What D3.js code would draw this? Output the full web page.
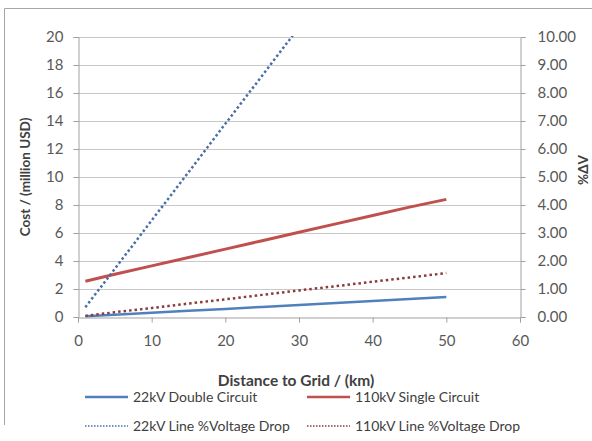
<!DOCTYPE html>
<html>
<head>
<meta charset="utf-8">
<script src="https://cdn.jsdelivr.net/npm/d3@7"></script>
<style>
  body { margin: 0; background: #fff; }
  text { font-family: Lato, "Open Sans", sans-serif; }
</style>
</head>
<body>
<script>
// chart data
const distances = [1, 5, 10, 15, 20, 25, 30, 35, 40, 45, 50];
const cost22kV = [0.05, 0.16, 0.3, 0.44, 0.58, 0.72, 0.86, 1.0, 1.14, 1.28, 1.42];
const cost110kV = [2.55, 3.05, 3.65, 4.25, 4.85, 5.45, 6.05, 6.65, 7.25, 7.85, 8.4];
const drop22kV = [0.35, 1.72, 3.45, 5.17, 6.9, 8.62, 10.35, 12.07, 13.8, 15.52, 17.25];
const drop110kV = [0.04, 0.17, 0.32, 0.48, 0.63, 0.79, 0.95, 1.1, 1.26, 1.41, 1.57];
const xTicks = [0, 10, 20, 30, 40, 50, 60];
const yTicks = [0, 2, 4, 6, 8, 10, 12, 14, 16, 18, 20];
const y2Ticks = [0, 1, 2, 3, 4, 5, 6, 7, 8, 9, 10];

const width = 592, height = 441;
const mLeft = 78, mRight = 520, mTop = 37, mBottom = 317;

const svg = d3.select("body").append("svg")
  .attr("width", width)
  .attr("height", height);

// outer chart border (only top and left edges are inside the picture)
svg.append("path")
  .attr("d", "M4.5,425V8.5H592")
  .attr("fill", "none").attr("stroke", "#a6a6a6");

const x = d3.scaleLinear().domain([0, 60]).range([mLeft, mRight]);
const y = d3.scaleLinear().domain([0, 20]).range([mBottom, mTop]);
const y2 = d3.scaleLinear().domain([0, 10]).range([mBottom, mTop]);

// gridlines
svg.append("g")
  .selectAll("line")
  .data(yTicks.slice(1))
  .enter().append("line")
  .attr("x1", mLeft).attr("x2", mRight)
  .attr("y1", d => y(d) + 0.5).attr("y2", d => y(d) + 0.5)
  .attr("stroke", "#c8c8c8").attr("stroke-width", 1.2);

// axes
const xAxis = svg.append("g")
  .attr("transform", `translate(0,${mBottom + 0.5})`)
  .call(d3.axisBottom(x).tickValues(xTicks).tickSize(5).tickPadding(13));

const yAxis = svg.append("g")
  .attr("transform", `translate(${mLeft + 0.5},0)`)
  .call(d3.axisLeft(y).tickValues(yTicks).tickSize(5).tickPadding(10));

const y2Axis = svg.append("g")
  .attr("transform", `translate(${mRight + 0.5},0)`)
  .call(d3.axisRight(y2).tickValues(y2Ticks).tickFormat(d3.format(".2f")).tickSize(5).tickPadding(12));

[xAxis, yAxis, y2Axis].forEach(g => {
  g.select(".domain").attr("stroke", "#a0a0a0");
  g.selectAll(".tick line").attr("stroke", "#a0a0a0");
  g.selectAll(".tick text")
    .attr("fill", "#595959")
    .style("font-size", "15px")
    .style("font-family", "Lato, sans-serif");
});

// clip to plot area
svg.append("clipPath").attr("id", "plot")
  .append("rect")
  .attr("x", mLeft).attr("y", mTop - 1)
  .attr("width", mRight - mLeft).attr("height", mBottom - mTop + 2);

const lineCost = d3.line().x((d, i) => x(distances[i])).y(d => y(d));
const lineDrop = d3.line().x((d, i) => x(distances[i])).y(d => y2(d));

const series = [
  { name: "22kV Double Circuit", values: cost22kV, gen: lineCost, color: "#4f81bd", dash: null, w: 2.5 },
  { name: "110kV Single Circuit", values: cost110kV, gen: lineCost, color: "#c0504d", dash: null, w: 3 },
  { name: "22kV Line %Voltage Drop", values: drop22kV, gen: lineDrop, color: "#4a6fa5", dash: "2.5,2.5", w: 2.5 },
  { name: "110kV Line %Voltage Drop", values: drop110kV, gen: lineDrop, color: "#8e3a3a", dash: "2.5,3", w: 2.5 }
];

const plot = svg.append("g").attr("clip-path", "url(#plot)");
series.forEach(s => {
  plot.append("path")
    .datum(s.values)
    .attr("d", s.gen)
    .attr("fill", "none")
    .attr("stroke", s.color)
    .attr("stroke-width", s.w)
    .attr("stroke-dasharray", s.dash);
});

// axis titles
svg.append("text")
  .attr("transform", `translate(30,${(mTop + mBottom) / 2}) rotate(-90)`)
  .attr("text-anchor", "middle")
  .attr("fill", "#404040")
  .style("font-size", "13.5px").style("font-weight", "bold")
  .text("Cost / (million USD)");

svg.append("text")
  .attr("transform", `translate(588,170) rotate(-90)`)
  .attr("text-anchor", "middle")
  .attr("fill", "#404040")
  .style("font-size", "13.5px").style("font-weight", "bold")
  .text("%ΔV");

svg.append("text")
  .attr("x", (mLeft + mRight) / 2 - 3).attr("y", 386)
  .attr("text-anchor", "middle")
  .attr("fill", "#404040")
  .style("font-size", "15.5px").style("font-weight", "bold")
  .text("Distance to Grid / (km)");

// legend
const legendPos = [[85, 397], [307, 397], [85, 426], [307, 426]];
series.forEach((s, i) => {
  const [lx, ly] = legendPos[i];
  svg.append("line")
    .attr("x1", lx).attr("x2", lx + 43)
    .attr("y1", ly).attr("y2", ly)
    .attr("stroke", s.color)
    .attr("stroke-width", s.dash ? 1.5 : 2.5)
    .attr("stroke-dasharray", s.dash ? "1.5,1.5" : null);
  svg.append("text")
    .attr("x", lx + 48).attr("y", ly + 5)
    .attr("fill", "#404040")
    .style("font-size", "14px")
    .text(s.name);
});
</script>
</body>
</html>
